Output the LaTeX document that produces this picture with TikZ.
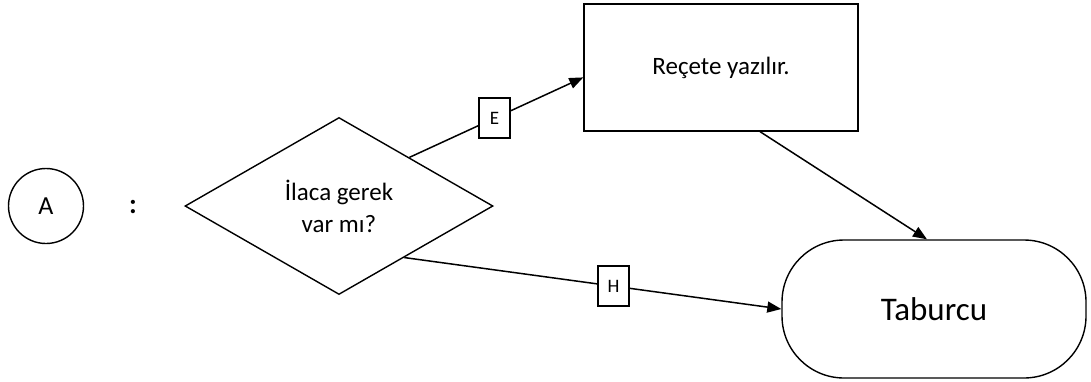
\documentclass[tikz,border=0pt]{standalone}
\usepackage{fontspec}
\setmainfont{Carlito}
\usetikzlibrary{shapes.geometric,arrows.meta,calc}
\begin{document}
\begin{tikzpicture}[x=1pt,y=-1pt,
  line width=1.4pt,
  arr/.style={-{Triangle[length=14pt,width=11pt]},line width=1.5pt},
  lbl/.style={draw,line width=1.4pt,fill=white,minimum width=31pt,minimum height=40pt,inner sep=0pt,font=\fontsize{19}{22}\selectfont},
  txt/.style={font=\fontsize{25}{32}\selectfont}]
\useasboundingbox (0,0) rectangle (1091,381);
\node[draw,circle,minimum size=75pt,inner sep=0pt,font=\fontsize{26}{30}\selectfont] (a) at (46,206) {A};
\node[font=\fontsize{28}{30}\selectfont\bfseries] (colon) at (133,207) {:};
\node[draw,diamond,minimum width=308pt,minimum height=177pt,inner sep=0pt,aspect=1.74,txt,align=center] (d) at (339,206) {İlaca gerek\\var mı?};
\node[draw,rectangle,minimum width=274pt,minimum height=127pt,inner sep=0pt,txt] (r) at (721,67.5) {Reçete yazılır.};
\node[draw,rectangle,rounded corners=62pt,minimum width=304pt,minimum height=138pt,inner sep=0pt,font=\fontsize{33}{38}\selectfont] (t) at (934,309) {Taburcu};
\coordinate (dE) at ($(d.north)!0.455!(d.east)$);
\coordinate (dH) at ($(d.east)!0.578!(d.south)$);
\coordinate (rE) at ($(r.north west)!0.577!(r.south west)$);
\coordinate (rB) at ($(r.south west)!0.642!(r.south east)$);
\coordinate (tT) at ($(t.north west)!0.477!(t.north east)$);
\draw[arr] (dE) -- node[lbl,pos=0.49] (e) {E} (rE);
\draw[arr] (dH) -- node[lbl,pos=0.555] (h) {H} (t.west);
\draw[arr] (rB) -- (tT);
\end{tikzpicture}
\end{document}
